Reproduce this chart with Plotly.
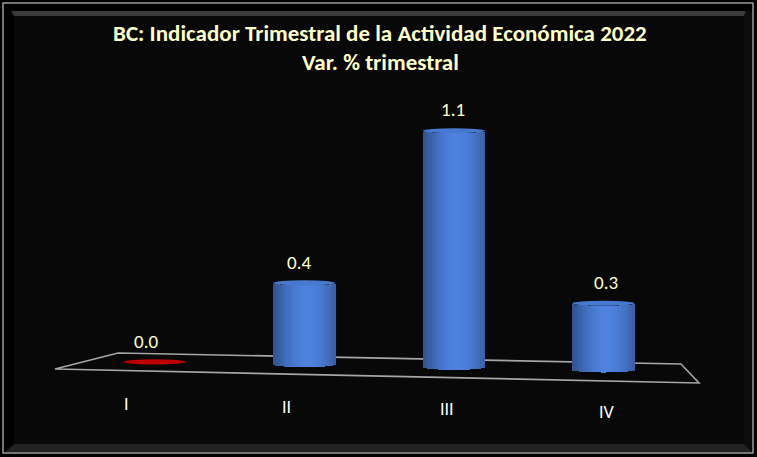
import math
import plotly.graph_objects as go

# data
quarters = ["I", "II", "III", "IV"]
var_pct = [0.0, 0.38, 1.10, 0.31]
bar_colors = ["#C00000", "#4472C4", "#4472C4", "#4472C4"]

title_line1 = "BC: Indicador Trimestral de la Actividad Económica 2022"
title_line2 = "Var. % trimestral"

# canvas / fake perspective settings
W_PX, H_PX = 757, 457
X0_PX, X_SCALE = 154.6, 149.6      # pixel of first category, px per category
Y0_PX, Y_SCALE = 362.0, 215.0      # pixel of value 0 at first category, px per unit
TILT = -2.7 / Y_SCALE              # floor drops a little towards the right
BAR_W = 0.415                      # cylinder width in category units
CAP_H = 2.4 / Y_SCALE              # half height of the elliptical cap
N_STRIPS = 28

CREAM = "#FFFFC8"
FONT = "Carlito, 'Liberation Sans Narrow', 'Open Sans', sans-serif"


def px(x, y):
    """pixel -> paper coordinates"""
    return x / W_PX, 1 - y / H_PX


def shade(hex_color, f):
    r, g, b = (int(hex_color[i:i + 2], 16) for i in (1, 3, 5))
    r, g, b = (max(0, min(255, int(round(c * f)))) for c in (r, g, b))
    return f"rgb({r},{g},{b})"


def cyl_light(t):
    # dark edges, highlight slightly right of the middle
    return 0.74 + 0.40 * math.cos((t - 0.55) * math.pi * 0.95)


bases = [TILT * i for i in range(len(quarters))]
tops = [b + v for b, v in zip(bases, var_pct)]

fig = go.Figure()

# cylinders built from thin shaded strips
strip_w = BAR_W / N_STRIPS
for k in range(N_STRIPS):
    t = (k + 0.5) / N_STRIPS
    u = 2 * t - 1
    curve = CAP_H * math.sqrt(max(0.0, 1 - u * u))
    fig.add_trace(go.Bar(
        x=quarters,
        y=var_pct,
        base=[b - curve for b in bases],
        width=strip_w * 1.2,
        offset=-BAR_W / 2 + k * strip_w,
        marker=dict(color=[shade(c, cyl_light(t)) for c in bar_colors], line=dict(width=0)),
        hoverinfo="skip",
        showlegend=False,
    ))

shapes = []

# frame with a bevel
shapes.append(dict(type="rect", xref="paper", yref="paper",
                   x0=px(3, 0)[0], x1=px(753, 0)[0], y0=px(0, 453)[1], y1=px(0, 3)[1],
                   line=dict(color="#9a9a9a", width=1.5), fillcolor="#000000", layer="below"))
shapes.append(dict(type="rect", xref="paper", yref="paper",
                   x0=px(14, 0)[0], x1=px(744, 0)[0], y0=px(0, 444)[1], y1=px(0, 16)[1],
                   line=dict(width=0), fillcolor="#080808", layer="below"))


def poly(points, color):
    pts = [px(a, b) for a, b in points]
    path = "M " + " L ".join(f"{a:.5f},{b:.5f}" for a, b in pts) + " Z"
    return dict(type="path", xref="paper", yref="paper", path=path,
                fillcolor=color, line=dict(width=0), layer="below")


shapes.append(poly([(11, 11), (746, 11), (744, 16), (14, 16)], "#3a3a3a"))
shapes.append(poly([(14, 444), (744, 444), (752, 452), (5, 452)], "#222222"))
shapes.append(poly([(744, 16), (746, 11), (752, 11), (752, 452), (744, 444)], "#0c0c0c"))

# floor
floor = [(55, 369), (118, 353), (681, 364), (699, 383)]
fp = [px(a, b) for a, b in floor]
shapes.append(dict(type="path", xref="paper", yref="paper",
                   path="M " + " L ".join(f"{a:.5f},{b:.5f}" for a, b in fp) + " Z",
                   line=dict(color="#a6a6a6", width=1.6), layer="below"))

# caps on top of each cylinder
for i, c in enumerate(bar_colors):
    shapes.append(dict(type="circle", xref="x", yref="y",
                       x0=i - BAR_W / 2, x1=i + BAR_W / 2,
                       y0=tops[i] - CAP_H, y1=tops[i] + CAP_H * 1.1,
                       fillcolor=shade(c, 1.06 if i else 1.0),
                       line=dict(width=0), layer="above"))

annotations = []
for i, (q, v) in enumerate(zip(quarters, var_pct)):
    annotations.append(dict(x=i, y=tops[i], xref="x", yref="y",
                            text=f"{v:.1f}", showarrow=False,
                            xshift=-9 + 4 * i, yshift=21, yanchor="middle",
                            font=dict(family=FONT, size=19, color=CREAM)))
    annotations.append(dict(x=i, y=bases[i], xref="x", yref="y",
                            text=q, showarrow=False,
                            xshift=-28 + 10.6 * i, yshift=-42, yanchor="middle",
                            font=dict(family=FONT, size=18, color="#FFFFFF")))

annotations.append(dict(x=px(380, 0)[0], y=px(0, 33)[1], xref="paper", yref="paper",
                        text=f"<b>{title_line1}</b>", showarrow=False,
                        xanchor="center", yanchor="middle",
                        font=dict(family=FONT, size=23, color=CREAM)))
annotations.append(dict(x=px(380, 0)[0], y=px(0, 62)[1], xref="paper", yref="paper",
                        text=f"<b>{title_line2}</b>", showarrow=False,
                        xanchor="center", yanchor="middle",
                        font=dict(family=FONT, size=23, color=CREAM)))

fig.update_layout(
    width=W_PX, height=H_PX,
    margin=dict(l=0, r=0, t=0, b=0, pad=0),
    paper_bgcolor="#000000",
    plot_bgcolor="rgba(0,0,0,0)",
    barmode="overlay",
    bargap=0,
    shapes=shapes,
    annotations=annotations,
    xaxis=dict(range=[-X0_PX / X_SCALE, (W_PX - X0_PX) / X_SCALE], visible=False, fixedrange=True),
    yaxis=dict(range=[-(H_PX - Y0_PX) / Y_SCALE, Y0_PX / Y_SCALE], visible=False, fixedrange=True),
    showlegend=False,
)

# drop the browser's default body margin so the figure sits at the page corner
fig.write_html("out.html", config={"displayModeBar": False},
               post_script="document.body.style.margin='0';")
